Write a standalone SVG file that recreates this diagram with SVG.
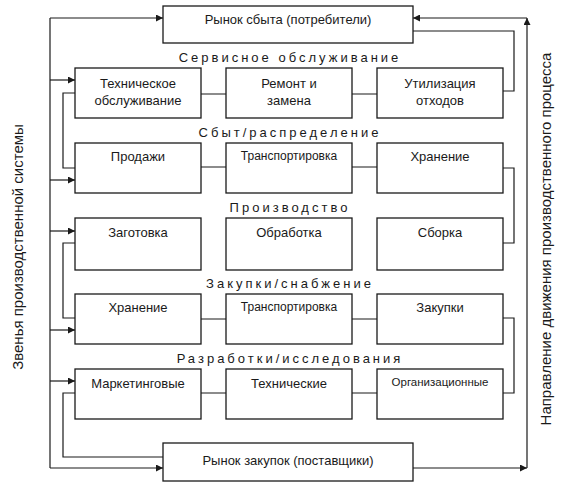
<svg xmlns="http://www.w3.org/2000/svg" width="562" height="487" viewBox="0 0 562 487">
<style>
.box{fill:#fff;stroke:#1a1a1a;stroke-width:1.3}
.ln{fill:none;stroke:#1a1a1a;stroke-width:1.2}
.t{font-family:"Liberation Sans",Arial,sans-serif;font-size:13px;fill:#1a1a1a;text-anchor:middle}
.s{font-size:12px}
.xs{font-size:11.5px}
.lb{font-family:"Liberation Sans",Arial,sans-serif;font-size:13px;fill:#1a1a1a;text-anchor:middle;letter-spacing:3px}
.v{font-family:"Liberation Sans",Arial,sans-serif;font-size:15px;fill:#1a1a1a;text-anchor:middle}
</style>
<defs>
<marker id="ah" viewBox="0 0 10 10" refX="10" refY="5" markerWidth="9" markerHeight="7" markerUnits="userSpaceOnUse" orient="auto">
<path d="M0,0 L10,5 L0,10 z" fill="#1a1a1a"/>
</marker>
</defs>
<rect width="562" height="487" fill="#fff"/>
<g id="connectors">
<path class="ln" d="M50,18 V468"/>
<path class="ln" d="M50,18 H163" marker-end="url(#ah)"/>
<path class="ln" d="M50,80 H75" marker-end="url(#ah)"/>
<path class="ln" d="M50,180 H75" marker-end="url(#ah)"/>
<path class="ln" d="M50,231 H75" marker-end="url(#ah)"/>
<path class="ln" d="M50,330 H75" marker-end="url(#ah)"/>
<path class="ln" d="M50,381 H75" marker-end="url(#ah)"/>
<path class="ln" d="M50,468 H163" marker-end="url(#ah)"/>
<path class="ln" d="M75,93 H63 V168 H75"/>
<path class="ln" d="M75,243 H63 V318 H75"/>
<path class="ln" d="M75,393 H63 V457 H163"/>
<path class="ln" d="M413,31 H514 V91 H503"/>
<path class="ln" d="M503,168 H514 V243 H503"/>
<path class="ln" d="M503,318 H514 V393 H503"/>
<path class="ln" d="M413,468 H527" marker-end="url(#ah)"/>
<path class="ln" d="M527,468 V18" marker-end="url(#ah)"/>
<path class="ln" d="M527,18 H413" marker-end="url(#ah)"/>
<path class="ln" d="M201,94 H226 M352,94 H377"/>
<path class="ln" d="M201,167 H226 M352,167 H377"/>
<path class="ln" d="M201,319 H226 M352,319 H377"/>
<path class="ln" d="M201,393 H226 M352,393 H377"/>
</g>
<g id="market-sales"><rect class="box" x="163" y="6" width="250" height="37"/><text class="t" x="288" y="24">Рынок сбыта (потребители)</text></g>
<g id="label-service"><text class="lb" x="290" y="62">Сервисное обслуживание</text></g>
<g id="tech-service"><rect class="box" x="75" y="68" width="126" height="50"/><text class="t" x="138" y="88">Техническое</text><text class="t" x="138" y="105">обслуживание</text></g>
<g id="repair"><rect class="box" x="226" y="68" width="126" height="50"/><text class="t" x="289" y="88">Ремонт и</text><text class="t" x="289" y="105">замена</text></g>
<g id="disposal"><rect class="box" x="377" y="68" width="126" height="50"/><text class="t" x="440" y="88">Утилизация</text><text class="t" x="440" y="105">отходов</text></g>
<g id="label-sales"><text class="lb" x="290" y="137">Сбыт/распределение</text></g>
<g id="sales"><rect class="box" x="75" y="143" width="126" height="50"/><text class="t" x="138" y="161">Продажи</text></g>
<g id="transport1"><rect class="box" x="226" y="143" width="126" height="50"/><text class="t s" x="289" y="160">Транспортировка</text></g>
<g id="storage1"><rect class="box" x="377" y="143" width="126" height="50"/><text class="t" x="440" y="161">Хранение</text></g>
<g id="label-production"><text class="lb" x="290" y="212">Производство</text></g>
<g id="blank"><rect class="box" x="75" y="218" width="126" height="52"/><text class="t" x="138" y="237">Заготовка</text></g>
<g id="processing"><rect class="box" x="226" y="218" width="126" height="52"/><text class="t" x="289" y="237">Обработка</text></g>
<g id="assembly"><rect class="box" x="377" y="218" width="126" height="52"/><text class="t" x="440" y="237">Сборка</text></g>
<g id="label-purchase"><text class="lb" x="290" y="288">Закупки/снабжение</text></g>
<g id="storage2"><rect class="box" x="75" y="294" width="126" height="50"/><text class="t" x="138" y="312">Хранение</text></g>
<g id="transport2"><rect class="box" x="226" y="294" width="126" height="50"/><text class="t s" x="289" y="311">Транспортировка</text></g>
<g id="purchases"><rect class="box" x="377" y="294" width="126" height="50"/><text class="t" x="440" y="312">Закупки</text></g>
<g id="label-rnd"><text class="lb" x="290" y="363">Разработки/исследования</text></g>
<g id="marketing"><rect class="box" x="75" y="369" width="126" height="50"/><text class="t" x="138" y="388">Маркетинговые</text></g>
<g id="technical"><rect class="box" x="226" y="369" width="126" height="50"/><text class="t" x="289" y="388">Технические</text></g>
<g id="organizational"><rect class="box" x="377" y="369" width="126" height="50"/><text class="t xs" x="440" y="386">Организационные</text></g>
<g id="market-purchase"><rect class="box" x="163" y="443" width="250" height="38"/><text class="t" x="288" y="465">Рынок закупок (поставщики)</text></g>
<g id="label-left"><text class="v" transform="translate(23,247) rotate(-90)">Звенья производственной системы</text></g>
<g id="label-right"><text class="v" transform="translate(551,239) rotate(-90)">Направление движения производственного процесса</text></g>
</svg>
